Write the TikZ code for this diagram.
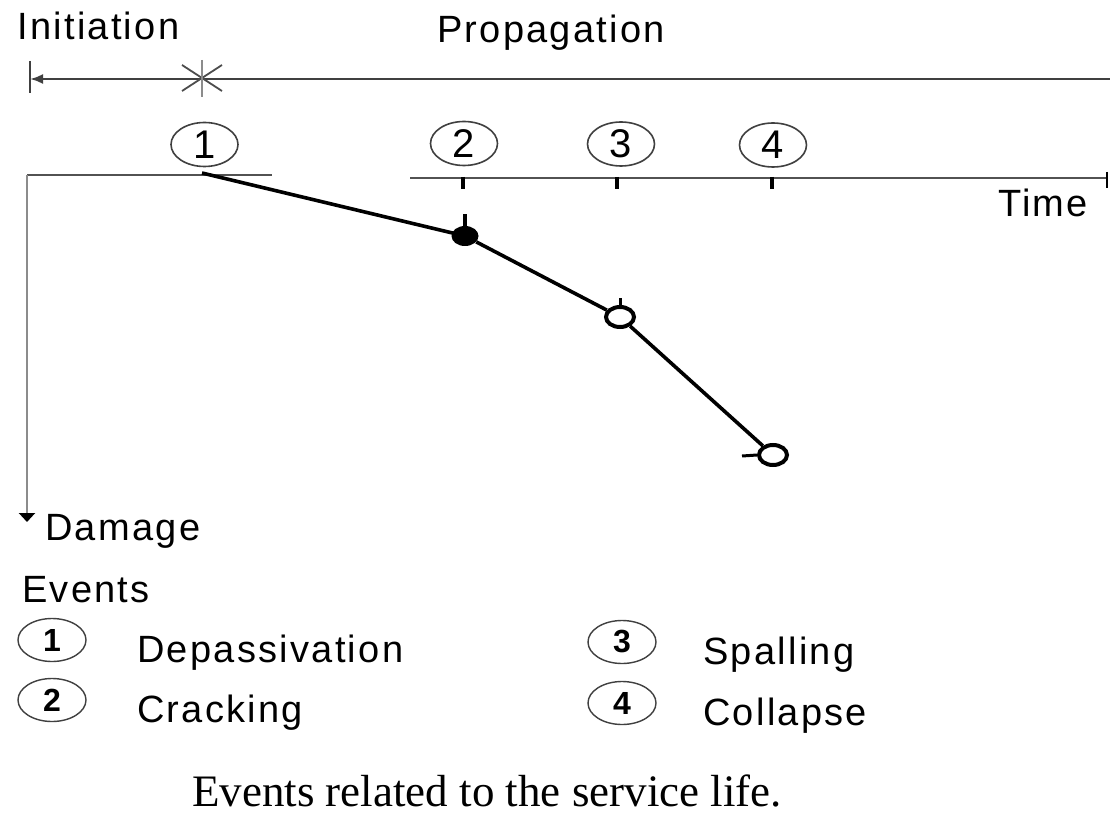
\documentclass[tikz,border=0pt]{standalone}
\usepackage{fontspec}
\setmainfont{Liberation Sans}
\newfontfamily\labfont{Liberation Sans}[LetterSpace=6]
\newfontfamily\numfont{Liberation Sans}
\newfontfamily\capfont{Liberation Serif}
\usetikzlibrary{arrows.meta,shapes.geometric,calc}
\begin{document}
\begin{tikzpicture}[x=1pt,y=-1pt,
  lab/.style={inner sep=0pt, anchor=base west, font=\labfont\fontsize{38}{40}\selectfont},
  capt/.style={inner sep=0pt, anchor=base west, font=\capfont\fontsize{45}{48}\selectfont},
  evt/.style={draw=black!75, line width=1.6pt, ellipse, inner sep=0pt, minimum width=67pt, minimum height=44pt, font=\numfont\fontsize{40}{42}\selectfont},
  legevt/.style={draw=black!75, line width=1.4pt, ellipse, inner sep=0pt, minimum width=68pt, minimum height=43pt, font=\numfont\bfseries\fontsize{32}{34}\selectfont},
  tline/.style={draw=black!75, line width=2.4pt},
  axis/.style={draw=black!68, line width=2.4pt},
  vaxis/.style={draw=black!45, line width=2.4pt},
  tick/.style={draw=black, line width=4.5pt},
  curve/.style={draw=black, line width=3.6pt},
  opendot/.style={draw=black, line width=4pt, fill=white, ellipse, inner sep=0pt, minimum width=28pt, minimum height=20pt},
  filldot/.style={fill=black, ellipse, inner sep=0pt, minimum width=27pt, minimum height=20pt}
]
\useasboundingbox (0,0) rectangle (1110,818);
\fill[white] (0,0) rectangle (1110,818);

% ---- top timeline
\node[lab] (init) at (17,40) {Initiation};
\node[lab] (prop) at (437,43) {Propagation};
\coordinate (tlL) at (30,79);
\coordinate (tlR) at (1110,79);
\coordinate (barT) at (30,61);
\coordinate (barB) at (30,93);
\draw[tline, {Latex[length=13pt,width=10pt]}-] (tlL) -- (tlR);
\draw[tline] (barT) -- (barB);
\coordinate (ast) at (202,78);
\draw[draw=black!70, line width=1.8pt] ($(ast)+(-20,-13)$) -- ($(ast)+(20,13)$);
\draw[draw=black!70, line width=1.8pt] ($(ast)+(20,-13)$) -- ($(ast)+(-20,13)$);
\draw[draw=black!45, line width=1.8pt] ($(ast)+(0,-18)$) -- ($(ast)+(0,19)$);

% ---- event ellipses on top
\node[evt] (t1) at (204.5,144.5) {\raisebox{-5pt}{1}};
\node[evt] (t2) at (464,143.5) {\raisebox{-5pt}{2}};
\node[evt] (t3) at (621,144) {\raisebox{-5pt}{3}};
\node[evt] (t4) at (773,145) {\raisebox{-5pt}{4}};

% ---- axes
\coordinate (o) at (27,175);
\coordinate (ax1) at (272,175);
\coordinate (ax2a) at (410,178);
\coordinate (ax2b) at (1107,178);
\coordinate (vend) at (27,522);
\draw[axis] (o) -- (ax1);
\draw[axis] (ax2a) -- (ax2b);
\draw[draw=black, line width=2.5pt] (1107,172) -- (1107,188);
\draw[vaxis, -{Triangle[length=9pt,width=16pt,fill=black,color=black]}] (o) -- (vend);
\node[lab] (time) at (998,217) {Time};
\node[lab] (dam) at (45,540) {Damage};

% ---- ticks
\draw[tick] (463,177) -- (463,189);
\draw[tick] (617,177) -- (617,189);
\draw[tick] (772,177) -- (772,189);

% ---- damage curve
\coordinate (p1) at (202,173);
\node[filldot] (d2) at (465,236) {};
\node[opendot] (d3) at (620,317) {};
\node[opendot] (d4) at (773,455) {};
\draw[curve] (p1) -- (d2.center);
\draw[curve] (d2) -- (d3);
\draw[curve] (d3) -- (d4);
\draw[draw=black, line width=4pt] (d2.north) -- ++(0,-12);
\draw[draw=black, line width=3pt] (d3.north) -- ++(0,-7);
\draw[draw=black, line width=3pt] (d4.west) -- ++(-15,1);

% ---- legend
\node[lab] (ev) at (22,602) {Events};
\node[legevt] (l1) at (52,640) {\raisebox{-4pt}{1}};
\node[lab] (l1t) at (137,662) {Depassivation};
\node[legevt] (l2) at (52,700) {\raisebox{-4pt}{2}};
\node[lab] (l2t) at (137,722) {Cracking};
\node[legevt] (l3) at (622,642) {\raisebox{-4pt}{3}};
\node[lab] (l3t) at (703,664) {Spalling};
\node[legevt] (l4) at (622,703) {\raisebox{-4pt}{4}};
\node[lab] (l4t) at (703,725) {Collapse};

% ---- caption
\node[capt] (cap) at (192,806) {Events related to the service life.};
\end{tikzpicture}
\end{document}
